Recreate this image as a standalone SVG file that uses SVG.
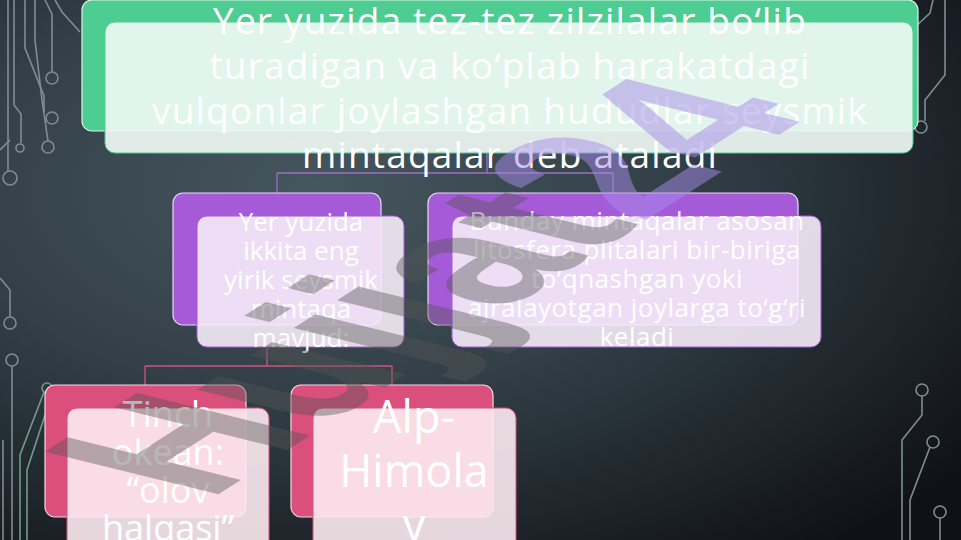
<svg xmlns="http://www.w3.org/2000/svg" width="961" height="540" viewBox="0 0 961 540">
<defs>
<radialGradient id="bg" cx="0.33" cy="0.35" r="0.85">
<stop offset="0" stop-color="#46565e"/>
<stop offset="0.45" stop-color="#323f47"/>
<stop offset="1" stop-color="#0f1116"/>
</radialGradient>
<style>
.circ{fill:none;stroke:#7f8c94;stroke-width:1.6}
.circ2{fill:none;stroke:#6f9a90;stroke-width:1.6}
.t{font-family:"Open Sans","Noto Sans","DejaVu Sans",sans-serif;fill:#ffffff;text-anchor:middle}
.green{fill:#4dcd92;stroke:#d9f5e8;stroke-width:1.2}
.greenO{fill:#edf8f3;fill-opacity:0.93;stroke:#4dcd92;stroke-width:1}
.purple{fill:#a55bd8;stroke:#ead8f6;stroke-width:1.2}
.purpleO{fill:#f6ecf8;fill-opacity:0.9;stroke:#a55bd8;stroke-width:1}
.pink{fill:#da4f7c;stroke:#f8d6e2;stroke-width:1.2}
.pinkO{fill:#fcebf1;fill-opacity:0.9;stroke:#da4f7c;stroke-width:1}
.c1{fill:none;stroke:#9a72c0;stroke-width:1.3}
.c2{fill:none;stroke:#d4517d;stroke-width:1.3}
</style>
</defs>
<rect x="0" y="0" width="961" height="540" fill="url(#bg)"/>

<g id="circuits">
<path class="circ" d="M45,0 L52,14 V72"/>
<circle class="circ" cx="52" cy="78" r="6"/>
<path class="circ" d="M55,0 L62,12 L80,32"/>
<path class="circ" d="M25,0 V48 L44,96 V112"/>
<circle class="circ" cx="52" cy="118" r="6"/>
<path class="circ" d="M14,0 V105 L21,114 V143"/>
<circle class="circ" cx="20" cy="148" r="4"/>
<path class="circ" d="M35,0 V40 L42,100 L48,141"/>
<circle class="circ" cx="48" cy="147" r="6"/>
<path class="circ" d="M8,0 V171"/>
<circle class="circ" cx="10" cy="178" r="7"/>
<path class="circ" d="M0,150 L10,140"/>
<path class="circ" d="M0,278 L10,290 V317"/>
<circle class="circ" cx="10" cy="323" r="6"/>
<circle class="circ" cx="12" cy="360" r="6"/>
<path class="circ" d="M12,366 V540"/>
<circle class="circ2" cx="47" cy="388" r="5"/>
<path class="circ2" d="M44,392 L20,455 V540"/>
<path class="circ2" d="M50,400 L27,470 V540"/>
<path class="circ" d="M3,440 V540"/>
<path class="circ" d="M945,0 V75 L925,100 V121"/>
<circle class="circ" cx="921" cy="127" r="6"/>
<path class="circ" d="M933,0 L930,13 L915,27"/>
<circle class="circ" cx="922" cy="390" r="6"/>
<path class="circ" d="M922,396 V415 L902,440 V540"/>
<circle class="circ" cx="933" cy="442" r="6"/>
<path class="circ" d="M930,447 L910,500 V540"/>
<circle class="circ" cx="940" cy="512" r="6"/>
<path class="circ" d="M940,518 V540"/>
</g>

<g id="connectors">
<path class="c1" d="M487,153 V173 M277,173 H613 M277,173 V193 M613,173 V193"/>
<path class="c2" d="M267,347 V366 M145,366 H392 M145,366 V385 M392,366 V385"/>
</g>

<g id="node-top">
<rect class="green" x="82" y="0" width="836" height="131" rx="10"/>
<rect class="greenO" x="105" y="22" width="808" height="131" rx="10"/>
<text class="t" font-size="37" letter-spacing="1.2"><tspan x="510" y="34">Yer yuzida tez-tez zilzilalar bo‘lib</tspan><tspan x="510" y="79">turadigan va ko‘plab harakatdagi</tspan><tspan x="510" y="124">vulqonlar joylashgan hududlar seysmik</tspan><tspan x="510" y="168">mintaqalar deb ataladi</tspan></text>
</g>

<g id="node-left2">
<rect class="purple" x="173" y="193" width="208" height="132" rx="10"/>
<rect class="purpleO" x="197" y="216" width="207" height="131" rx="10"/>
<text class="t" font-size="26"><tspan x="301" y="231">Yer yuzida</tspan><tspan x="301" y="260">ikkita eng</tspan><tspan x="301" y="289">yirik seysmik</tspan><tspan x="301" y="318">mintaqa</tspan><tspan x="301" y="347">mavjud:</tspan></text>
</g>

<g id="node-right2">
<rect class="purple" x="428" y="193" width="370" height="132" rx="10"/>
<rect class="purpleO" x="452" y="216" width="369" height="131" rx="10"/>
<text class="t" font-size="26" letter-spacing="0.5"><tspan x="637" y="230">Bunday mintaqalar asosan</tspan><tspan x="637" y="259">litosfera plitalari bir-biriga</tspan><tspan x="637" y="288">to‘qnashgan yoki</tspan><tspan x="637" y="317">ajralayotgan joylarga to‘g‘ri</tspan><tspan x="637" y="346">keladi</tspan></text>
</g>

<g id="node-tinch">
<rect class="pink" x="45" y="385" width="201" height="132" rx="10"/>
<rect class="pinkO" x="67" y="408" width="202" height="145" rx="10"/>
<text class="t" font-size="36"><tspan x="168" y="427">Tinch</tspan><tspan x="168" y="465">okean:</tspan><tspan x="168" y="503">“olov</tspan><tspan x="168" y="541">halqasi”</tspan></text>
</g>

<g id="node-alp">
<rect class="pink" x="291" y="385" width="202" height="132" rx="10"/>
<rect class="pinkO" x="313" y="408" width="203" height="145" rx="10"/>
<text class="t" font-size="45"><tspan x="414" y="433">Alp-</tspan><tspan x="414" y="487">Himola</tspan><tspan x="414" y="541">y</tspan></text>
</g>

<g id="watermark" font-family="'Liberation Sans',Arial,sans-serif" font-weight="bold" font-size="200">
<text transform="matrix(0.78,-0.5,1.26,0.31,208,501)"><tspan fill="#555555" fill-opacity="0.42">Hujjat</tspan><tspan fill="#a78be8" fill-opacity="0.5">24</tspan></text>
</g>
</svg>
